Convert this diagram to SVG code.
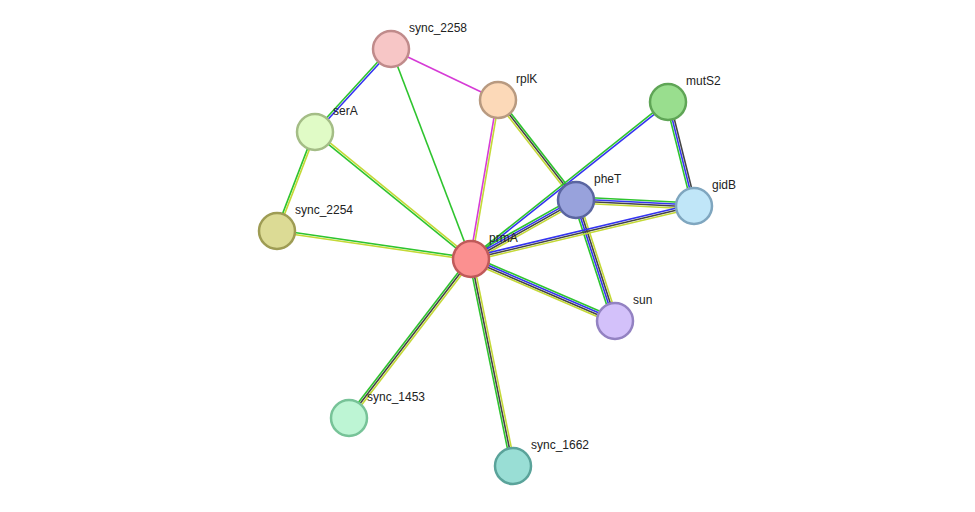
<svg xmlns="http://www.w3.org/2000/svg" width="975" height="512" viewBox="0 0 975 512">
<style>
line{stroke-width:1.6;fill:none}
.g{stroke:#2ec42e}.b{stroke:#3434f0}.k{stroke:#444}.y{stroke:#c4d936}.m{stroke:#d63bd6}
circle{stroke-width:2.5}
text{font-family:"Liberation Sans",Arial,sans-serif;font-size:12px;fill:#222}
</style>
<rect width="975" height="512" fill="#fff"/>
<g id="edges">
<line class="g" x1="390.26" y1="48.32" x2="314.26" y2="131.32"/><line class="b" x1="391.74" y1="49.68" x2="315.74" y2="132.68"/>
<line class="m" x1="391" y1="49" x2="498" y2="100"/>
<line class="g" x1="391" y1="49" x2="471" y2="259"/>
<line class="g" x1="314.07" y1="131.64" x2="276.07" y2="230.64"/><line class="y" x1="315.93" y1="132.36" x2="277.93" y2="231.36"/>
<line class="g" x1="314.37" y1="132.78" x2="470.37" y2="259.78"/><line class="y" x1="315.63" y1="131.22" x2="471.63" y2="258.22"/>
<line class="g" x1="277.14" y1="230.01" x2="471.14" y2="258.01"/><line class="y" x1="276.86" y1="231.99" x2="470.86" y2="259.99"/>
<line class="m" x1="497.01" y1="99.83" x2="470.01" y2="258.83"/><line class="y" x1="498.99" y1="100.17" x2="471.99" y2="259.17"/>
<line class="g" x1="499.58" y1="98.78" x2="577.58" y2="198.78"/><line class="k" x1="498" y1="100" x2="576" y2="200"/><line class="y" x1="496.42" y1="101.22" x2="574.42" y2="201.22"/>
<line class="g" x1="667.38" y1="101.22" x2="470.38" y2="258.22"/><line class="b" x1="668.62" y1="102.78" x2="471.62" y2="259.78"/>
<line class="g" x1="666.06" y1="102.48" x2="692.06" y2="206.48"/><line class="b" x1="668" y1="102" x2="694" y2="206"/><line class="k" x1="669.94" y1="101.52" x2="695.94" y2="205.52"/>
<line class="g" x1="574.53" y1="197.39" x2="469.53" y2="256.39"/><line class="b" x1="575.51" y1="199.13" x2="470.51" y2="258.13"/><line class="k" x1="576.49" y1="200.87" x2="471.49" y2="259.87"/><line class="y" x1="577.47" y1="202.61" x2="472.47" y2="261.61"/>
<line class="g" x1="576.15" y1="197" x2="694.15" y2="203"/><line class="b" x1="576.05" y1="199" x2="694.05" y2="205"/><line class="k" x1="575.95" y1="201" x2="693.95" y2="207"/><line class="y" x1="575.85" y1="203" x2="693.85" y2="209"/>
<line class="g" x1="573.15" y1="200.93" x2="612.15" y2="321.93"/><line class="b" x1="575.05" y1="200.31" x2="614.05" y2="321.31"/><line class="k" x1="576.95" y1="199.69" x2="615.95" y2="320.69"/><line class="y" x1="578.85" y1="199.07" x2="617.85" y2="320.07"/>
<line class="b" x1="470.54" y1="257.06" x2="693.54" y2="204.06"/><line class="k" x1="471" y1="259" x2="694" y2="206"/><line class="y" x1="471.46" y1="260.94" x2="694.46" y2="207.94"/>
<line class="g" x1="472.17" y1="256.24" x2="616.17" y2="318.24"/><line class="b" x1="471.39" y1="258.08" x2="615.39" y2="320.08"/><line class="k" x1="470.61" y1="259.92" x2="614.61" y2="321.92"/><line class="y" x1="469.83" y1="261.76" x2="613.83" y2="323.76"/>
<line class="g" x1="469.42" y1="257.78" x2="347.42" y2="416.78"/><line class="k" x1="471" y1="259" x2="349" y2="418"/><line class="y" x1="472.58" y1="260.22" x2="350.58" y2="419.22"/>
<line class="g" x1="469.04" y1="259.4" x2="511.04" y2="466.4"/><line class="k" x1="471" y1="259" x2="513" y2="466"/><line class="y" x1="472.96" y1="258.6" x2="514.96" y2="465.6"/>
</g>
<g id="sync_2258"><circle cx="391" cy="49" r="18" fill="#f7c6c6" stroke="#c08b8b"/><text x="409" y="32">sync_2258</text></g>
<g id="rplK"><circle cx="498" cy="100" r="18" fill="#fcd9b8" stroke="#b89a80"/><text x="516" y="83">rplK</text></g>
<g id="serA"><circle cx="315" cy="132" r="18" fill="#e0fbc6" stroke="#a4bd86"/><text x="333" y="115">serA</text></g>
<g id="mutS2"><circle cx="668" cy="102" r="18" fill="#99de8e" stroke="#5fa556"/><text x="686" y="85">mutS2</text></g>
<g id="pheT"><circle cx="576" cy="200" r="18" fill="#98a2dc" stroke="#5a65a0"/><text x="594" y="183">pheT</text></g>
<g id="gidB"><circle cx="694" cy="206" r="18" fill="#c0e6f8" stroke="#7fa6bf"/><text x="712" y="189">gidB</text></g>
<g id="sync_2254"><circle cx="277" cy="231" r="18" fill="#dcdb95" stroke="#9e9c54"/><text x="295" y="214">sync_2254</text></g>
<g id="prmA"><circle cx="471" cy="259" r="18" fill="#fb9090" stroke="#c05a5a"/><text x="489" y="242">prmA</text></g>
<g id="sun"><circle cx="615" cy="321" r="18" fill="#d3c1fa" stroke="#9382c2"/><text x="633" y="304">sun</text></g>
<g id="sync_1453"><circle cx="349" cy="418" r="18" fill="#bdf5d4" stroke="#77c398"/><text x="367" y="401">sync_1453</text></g>
<g id="sync_1662"><circle cx="513" cy="466" r="18" fill="#99ded5" stroke="#5aa39a"/><text x="531" y="449">sync_1662</text></g>
</svg>
